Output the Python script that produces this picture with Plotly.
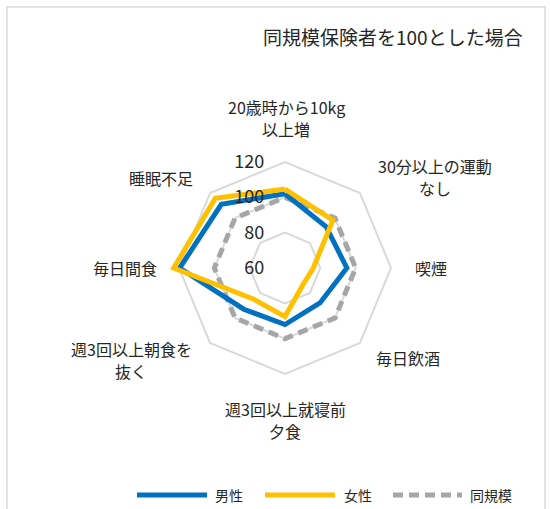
import plotly.graph_objects as go

categories = ["20歳時から10kg<br>以上増", "30分以上の運動<br>なし", "喫煙", "毎日飲酒",
              "週3回以上就寝前<br>夕食", "週3回以上朝食を<br>抜く", "毎日間食", "睡眠不足"]
male = [102, 93, 95, 88, 92, 93, 119.6, 111]
female = [104.7, 98.3, 76, 74, 87.5, 85, 123, 115.8]
same_scale = [100, 100, 100, 100, 100, 100, 100, 100]
radial_ticks = [60, 80, 100, 120]
series_names = ["男性", "女性", "同規模"]
title_text = "同規模保険者を100とした場合"

W, H = 550, 509
FONT = "Noto Sans CJK JP"
BLUE, YELLOW, GRAY = "#0070C0", "#FFC000", "#A6A6A6"

def close(v):
    return list(v) + [v[0]]

theta = close(categories)

fig = go.Figure()
fig.add_trace(go.Scatterpolar(r=close(same_scale), theta=theta, mode="lines",
                              line=dict(color=GRAY, width=5, dash="10px,6px"),
                              cliponaxis=False, showlegend=False, name=series_names[2]))
fig.add_trace(go.Scatterpolar(r=close(male), theta=theta, mode="lines",
                              line=dict(color=BLUE, width=5),
                              cliponaxis=False, showlegend=False, name=series_names[0]))
fig.add_trace(go.Scatterpolar(r=close(female), theta=theta, mode="lines",
                              line=dict(color=YELLOW, width=5),
                              cliponaxis=False, showlegend=False, name=series_names[1]))

# radial range extends a little past 120 so values above 120 are not clipped
r_min, r_grid_max, r_max = 60, 120, 126
cx, cy, R120 = 285, 268, 106
R = R120 * (r_max - r_min) / (r_grid_max - r_min)

def px(x):
    return x / W
def py(y):
    return 1 - y / H

fig.update_layout(
    width=W, height=H, margin=dict(l=0, r=0, t=0, b=0),
    paper_bgcolor="white", plot_bgcolor="white",
    font=dict(family=FONT, color="#262626", size=16),
    polar=dict(
        domain=dict(x=[px(cx - R), px(cx + R)], y=[py(cy + R), py(cy - R)]),
        bgcolor="rgba(0,0,0,0)",
        gridshape="linear",
        radialaxis=dict(range=[r_min, r_max], tickvals=radial_ticks, angle=90, tickangle=90,
                        side="counterclockwise", showline=False, ticks="outside",
                        ticklen=14, tickcolor="rgba(0,0,0,0)",
                        showgrid=True, gridcolor="#D9D9D9", gridwidth=1.5,
                        tickfont=dict(size=18, color="#262626", family=FONT)),
        angularaxis=dict(type="category", direction="clockwise", rotation=90,
                         showticklabels=False, ticks="", showgrid=False,
                         showline=False),
    ),
    showlegend=False,
)

# category labels (one annotation per text line)
label_pos = [(286, 118), (435, 177), (431, 268), (408, 358),
             (285, 420), (131, 360), (125, 268), (161, 178)]
line_gap = 22
for txt, (x, y) in zip(categories, label_pos):
    lines = txt.split("<br>")
    y0 = y - line_gap * (len(lines) - 1) / 2
    for i, ln in enumerate(lines):
        fig.add_annotation(x=px(x), y=py(y0 + i * line_gap), xref="paper", yref="paper",
                           text=ln, showarrow=False, xanchor="center", yanchor="middle",
                           borderpad=0,
                           font=dict(size=16, family=FONT, color="#262626"))

# title
fig.add_annotation(x=px(525), y=py(36), xref="paper", yref="paper", text=title_text,
                   showarrow=False, xanchor="right", yanchor="middle",
                   font=dict(size=19, family=FONT, color="#262626"))

# outer frame
fig.add_shape(type="rect", xref="paper", yref="paper", x0=px(7), x1=px(545),
              y0=-0.1, y1=py(7), line=dict(color="#D9D9D9", width=1.5), layer="below")

# custom legend
legend_items = [(137, 207, 213, BLUE, "solid"), (265, 335, 342, YELLOW, "solid"),
                (393, 462, 468, GRAY, "10px,6px")]
ly = 495
for (x0, x1, tx, col, dash), name in zip(legend_items, series_names):
    fig.add_shape(type="line", xref="paper", yref="paper", x0=px(x0), x1=px(x1),
                  y0=py(ly), y1=py(ly), line=dict(color=col, width=5, dash=dash))
    fig.add_annotation(x=px(tx), y=py(ly), xref="paper", yref="paper", text=name,
                       showarrow=False, xanchor="left", yanchor="middle",
                       font=dict(size=14, family=FONT, color="#262626"))

fig.write_html("out.html", config={"displayModeBar": False},
               post_script="document.body.style.margin='0px';document.body.style.overflow='hidden';")
